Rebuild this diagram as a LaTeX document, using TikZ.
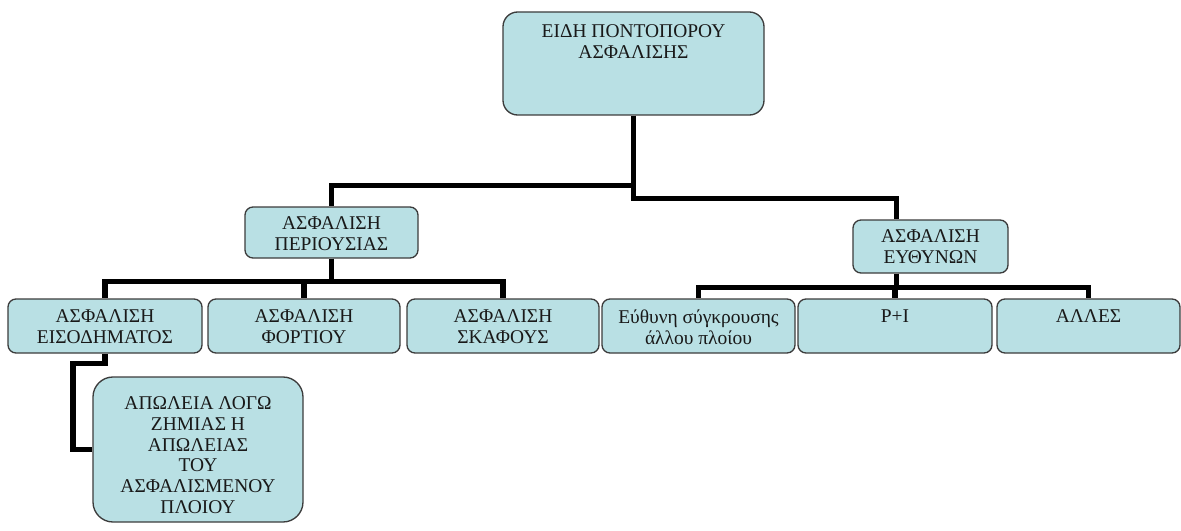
\documentclass[tikz,border=0pt]{standalone}
\usepackage{fontspec}
\setmainfont{Liberation Serif}
\usetikzlibrary{fit,calc}
\pgfdeclarelayer{background}
\pgfsetlayers{background,main}
\definecolor{boxfill}{RGB}{185,224,228}
\definecolor{boxline}{RGB}{60,60,60}
\tikzset{
  box/.style={draw=boxline, line width=1pt, fill=boxfill, rounded corners=6pt, inner sep=0pt},
  txt/.style={anchor=north, align=center, inner sep=0pt, text=black!90, font=\fontsize{14.6}{15.6}\selectfont},
  conn/.style={draw=black, line width=4.2pt}
}
\newcommand{\mybox}[6][6pt]{%
  \node[box, rounded corners=#1, fit={(#3,#4) (#5,#6)}] (#2) {};
}
\begin{document}
\begin{tikzpicture}[x=0.75pt,y=-0.75pt]
\useasboundingbox (0,0) rectangle (1181,531);
\mybox[11pt]{top}{503}{12}{764}{115}
\mybox{perio}{245}{207}{418}{258}
\mybox{euth}{853}{220}{1008}{273}
\mybox{eis}{8}{299}{202}{353}
\mybox{fort}{208}{299}{400}{353}
\mybox{skaf}{407}{299}{599}{353}
\mybox{syg}{602}{299}{795}{353}
\mybox{pi}{798}{299}{992}{353}
\mybox{alles}{997}{299}{1180}{353}
\mybox[15pt]{apol}{93}{377}{303}{522}
\begin{pgfonlayer}{background}
\draw[conn] (top.south) -- ++(0,70) -| (perio.north);
\draw[conn] (top.south) -- ++(0,83) -| ($(euth.north)+(-34,0)$);
\draw[conn] (perio.south) -- ++(0,23) -| (eis.north);
\draw[conn] (perio.south) -- ++(0,23) -| (fort.north);
\draw[conn] (perio.south) -- ++(0,23) -| (skaf.north);
\draw[conn] ($(euth.south)+(-34,0)$) -- ++(0,14) -| (syg.north);
\draw[conn] ($(euth.south)+(-34,0)$) -- ++(0,14) -| (pi.north);
\draw[conn] ($(euth.south)+(-34,0)$) -- ++(0,14) -| (alles.north);
\draw[conn] (eis.south) -- ++(0,10) -- ++(-32,0) |- (apol.west);
\end{pgfonlayer}
\node[txt] (ttop) at ($(top.north)+(0,13)$) {ΕΙΔΗ ΠΟΝΤΟΠΟΡΟΥ\\ΑΣΦΑΛΙΣΗΣ};
\node[txt] (tperio) at ($(perio.north)+(0,10)$) {ΑΣΦΑΛΙΣΗ\\ΠΕΡΙΟΥΣΙΑΣ};
\node[txt] (teuth) at ($(euth.north)+(0,10)$) {ΑΣΦΑΛΙΣΗ\\ΕΥΘΥΝΩΝ};
\node[txt] (teis) at ($(eis.north)+(0,11)$) {ΑΣΦΑΛΙΣΗ\\ΕΙΣΟΔΗΜΑΤΟΣ};
\node[txt] (tfort) at ($(fort.north)+(0,11)$) {ΑΣΦΑΛΙΣΗ\\ΦΟΡΤΙΟΥ};
\node[txt] (tskaf) at ($(skaf.north)+(0,11)$) {ΑΣΦΑΛΙΣΗ\\ΣΚΑΦΟΥΣ};
\node[txt] (tsyg) at ($(syg.north)+(0,11)$) {Εύθυνη σύγκρουσης\\άλλου πλοίου};
\node[txt] (tpi) at ($(pi.north)+(0,11)$) {P+I};
\node[txt] (talles) at ($(alles.north)+(0,11)$) {ΑΛΛΕΣ};
\node[txt] (tapol) at ($(apol.north)+(0,20)$) {ΑΠΩΛΕΙΑ ΛΟΓΩ\\ΖΗΜΙΑΣ Η\\ΑΠΩΛΕΙΑΣ\\ΤΟΥ\\ΑΣΦΑΛΙΣΜΕΝΟΥ\\ΠΛΟΙΟΥ};
\end{tikzpicture}
\end{document}
